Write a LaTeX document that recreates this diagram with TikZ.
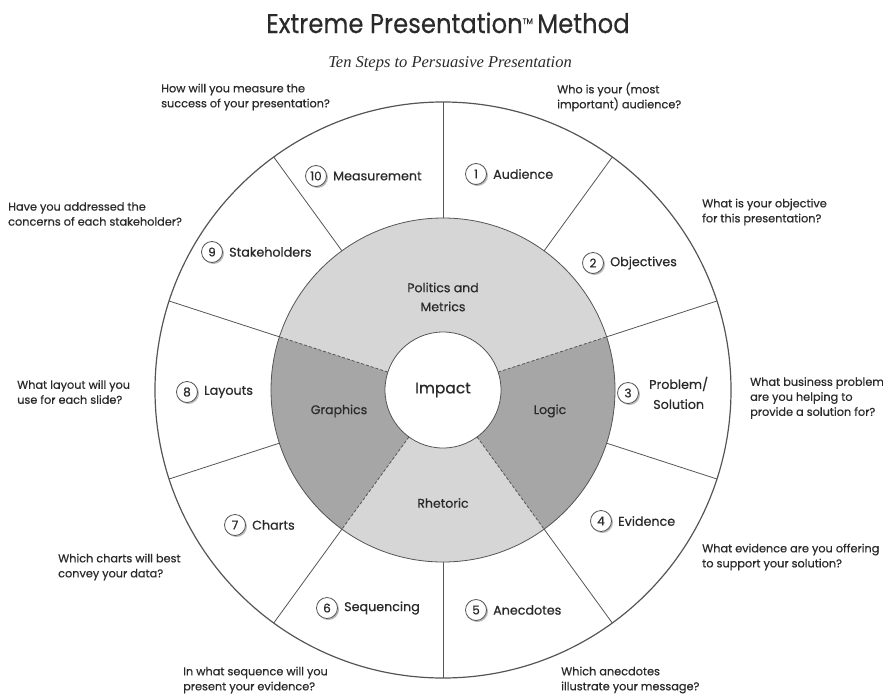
\documentclass[tikz,border=0pt]{standalone}
\usepackage{fontspec}
\setmainfont{Poppins}[FakeBold=0.5]
\newfontfamily\titlefont{Poppins}[FakeStretch=0.9,FakeBold=0.3]
\newfontfamily\subfont{Liberation Serif}
\usetikzlibrary{shadows}
\definecolor{txt}{HTML}{2A2A2A}
\definecolor{lightg}{HTML}{D6D6D6}
\definecolor{darkg}{HTML}{A6A6A6}
\definecolor{linec}{HTML}{555555}
\begin{document}
\begin{tikzpicture}[x=1pt,y=-1pt,
  question/.style={anchor=west, align=left, inner sep=0pt, text=txt, font=\fontsize{11.3}{15}\selectfont},
  steplabel/.style={anchor=west, inner sep=0pt, text=txt, font=\fontsize{12.7}{15}\selectfont},
  numcircle/.style={circle, draw=linec, line width=0.8pt, fill=white, minimum size=21pt, inner sep=0pt, text=txt, font=\fontsize{12}{12}\selectfont, drop shadow={shadow xshift=1.5pt, shadow yshift=-1.5pt, fill=black!45, opacity=0.6}},
  core/.style={text=txt, align=center, inner sep=0pt, font=\fontsize{12.5}{19}\selectfont},
  spoke/.style={draw=linec, line width=0.8pt},
  divider/.style={draw=linec, line width=0.8pt, dash pattern=on 3pt off 2pt}
]
\useasboundingbox (0,0) rectangle (883,696);
\fill[white] (0,0) rectangle (883,696);
\coordinate (C) at (443,390);

% inner ring
\fill[lightg] (C) circle[radius=172];
\fill[darkg] (C) -- ++(-162:172) arc[start angle=-162,end angle=-234,radius=172] -- cycle;
\fill[darkg] (C) -- ++(54:172) arc[start angle=54,end angle=-18,radius=172] -- cycle;
\foreach \a in {18,162,234,306}
  \draw[divider] ([shift={(-\a:58)}]C) -- ([shift={(-\a:172)}]C);
\draw[spoke] (C) circle[radius=172];
\draw[draw=linec, line width=1.2pt] (C) circle[radius=288];
\foreach \k in {0,...,9}
  \draw[spoke] ([shift={(-90+36*\k:172)}]C) -- ([shift={(-90+36*\k:288)}]C);

\node[circle, draw=linec, line width=0.8pt, fill=white, minimum size=116pt, inner sep=0pt, text=txt, font=\fontsize{15.5}{18}\selectfont] (impact) at (C) {Impact};

% core labels
\node[core] (politics) at (443,297) {Politics and\\Metrics};
\node[core] (graphics) at (339,411) {Graphics};
\node[core] (logic) at (550,411) {Logic};
\node[core] (rhetoric) at (443,503) {Rhetoric};

% title
\node[anchor=base, inner sep=0pt, text=txt, font=\titlefont\fontsize{27}{30}\selectfont] (title) at (448,33) {Extreme Presentation\raisebox{9pt}{\fontsize{8}{8}\selectfont TM}\,Method};
\node[anchor=base, inner sep=0pt, text=txt, font=\subfont\itshape\fontsize{16.5}{18}\selectfont] (subtitle) at (450,67) {Ten Steps to Persuasive Presentation};

% steps
\node[numcircle] (n1) at (476,174) {1};
\node[steplabel] (s1) at (493,174) {Audience};
\node[numcircle] (n2) at (593,263) {2};
\node[steplabel] (s2) at (610,263) {Objectives};
\node[numcircle] (n3) at (628,393) {3};
\node[steplabel, align=center, font=\fontsize{12.7}{20}\selectfont] (s3) at (649,393) {Problem/\\Solution};
\node[numcircle] (n4) at (601,521) {4};
\node[steplabel] (s4) at (618,521) {Evidence};
\node[numcircle] (n5) at (476,610) {5};
\node[steplabel] (s5) at (493,610) {Anecdotes};
\node[numcircle] (n6) at (327,608) {6};
\node[steplabel] (s6) at (344,608) {Sequencing};
\node[numcircle] (n7) at (235,525) {7};
\node[steplabel] (s7) at (252,525) {Charts};
\node[numcircle] (n8) at (187,392) {8};
\node[steplabel] (s8) at (204,392) {Layouts};
\node[numcircle] (n9) at (212,252) {9};
\node[steplabel] (s9) at (229,252) {Stakeholders};
\node[numcircle] (n10) at (316,176) {10};
\node[steplabel] (s10) at (333,176) {Measurement};

% questions
\node[question] (q10) at (161,97) {How will you measure the\\success of your presentation?};
\node[question] (q1) at (557,97) {Who is your (most\\important) audience?};
\node[question] (q2) at (702,212) {What is your objective\\for this presentation?};
\node[question] (q9) at (8,214) {Have you addressed the\\concerns of each stakeholder?};
\node[question] (q8) at (17,392) {What layout will you\\use for each slide?};
\node[question] (q3) at (750,398) {What business problem\\are you helping to\\provide a solution for?};
\node[question] (q7) at (58,567) {Which charts will best\\convey your data?};
\node[question] (q4) at (702,557) {What evidence are you offering\\to support your solution?};
\node[question] (q6) at (183,680) {In what sequence will you\\present your evidence?};
\node[question] (q5) at (561,680) {Which anecdotes\\illustrate your message?};
\end{tikzpicture}
\end{document}
